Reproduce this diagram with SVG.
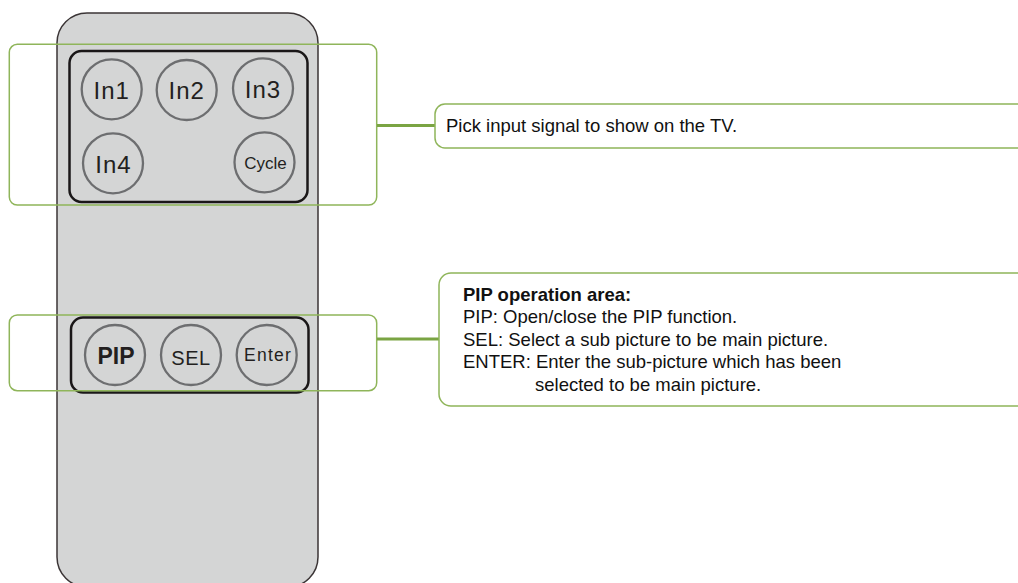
<svg xmlns="http://www.w3.org/2000/svg" width="1018" height="583" viewBox="0 0 1018 583">
<style>
.body{fill:#d4d5d5;stroke:#3b3536;stroke-width:1.5}
.pad{fill:none;stroke:#1a1718;stroke-width:2.5}
.btn{fill:none;stroke:#6d6e70;stroke-width:2.3}
.lbl{font-family:"Liberation Sans",Arial,sans-serif;fill:#231f20;text-anchor:middle}
.grp{fill:none;stroke:#8fb55a;stroke-width:1.5}
.call{fill:#ffffff;stroke:#8fb55a;stroke-width:1.5}
.conn{stroke:#7aa443;stroke-width:3;fill:none}
.txt{font-family:"Liberation Sans",Arial,sans-serif;font-size:18.5px;fill:#111111}
</style>
<rect width="1018" height="583" fill="#ffffff"/>
<g id="remote">
<rect class="body" x="57" y="13" width="261" height="574" rx="30"/>
</g>
<g id="input-pad">
<rect class="pad" x="69.5" y="51" width="238" height="151" rx="12"/>
<g id="btn-in1"><circle class="btn" cx="111.7" cy="89.3" r="30"/><text class="lbl" x="111.7" y="99" font-size="24" letter-spacing="1">In1</text></g>
<g id="btn-in2"><circle class="btn" cx="186.7" cy="90" r="30"/><text class="lbl" x="186.7" y="99" font-size="24" letter-spacing="1">In2</text></g>
<g id="btn-in3"><circle class="btn" cx="263" cy="88.3" r="30"/><text class="lbl" x="263" y="97.7" font-size="24" letter-spacing="1">In3</text></g>
<g id="btn-in4"><circle class="btn" cx="113" cy="163.3" r="30"/><text class="lbl" x="113.5" y="173.3" font-size="24" letter-spacing="1">In4</text></g>
<g id="btn-cycle"><circle class="btn" cx="264.5" cy="162.3" r="30"/><text class="lbl" x="265.5" y="169" font-size="17">Cycle</text></g>
</g>
<g id="pip-pad">
<rect class="pad" x="71" y="317.5" width="237.5" height="75" rx="12"/>
<g id="btn-pip"><circle class="btn" cx="115" cy="355" r="30"/><text class="lbl" x="116" y="364.3" font-size="23" font-weight="bold">PIP</text></g>
<g id="btn-sel"><circle class="btn" cx="191" cy="355" r="30"/><text class="lbl" x="191" y="364.7" font-size="20" letter-spacing="0.5">SEL</text></g>
<g id="btn-enter"><circle class="btn" cx="266.7" cy="355" r="30"/><text class="lbl" x="268" y="361.3" font-size="17.5" letter-spacing="1.2">Enter</text></g>
</g>
<g id="group-input"><rect class="grp" x="9.3" y="44.3" width="367.4" height="160.7" rx="8"/></g>
<g id="group-pip"><rect class="grp" x="9.3" y="315" width="367.4" height="75.7" rx="8"/></g>
<g id="connectors">
<line class="conn" x1="377" y1="125.5" x2="435" y2="125.5"/>
<line class="conn" x1="377" y1="339" x2="439" y2="339"/>
</g>
<g id="callout-input">
<rect class="call" x="435" y="104" width="600" height="44" rx="10"/>
<text class="txt" x="446" y="131.5">Pick input signal to show on the TV.</text>
</g>
<g id="callout-pip">
<rect class="call" x="439" y="273" width="600" height="133" rx="12"/>
<text class="txt" x="463" y="300.7" font-weight="bold">PIP operation area:</text>
<text class="txt" x="463" y="323.2">PIP: Open/close the PIP function.</text>
<text class="txt" x="463" y="345.7">SEL: Select a sub picture to be main picture.</text>
<text class="txt" x="463" y="368.2">ENTER: Enter the sub-picture which has been</text>
<text class="txt" x="535" y="390.7">selected to be main picture.</text>
</g>
</svg>
